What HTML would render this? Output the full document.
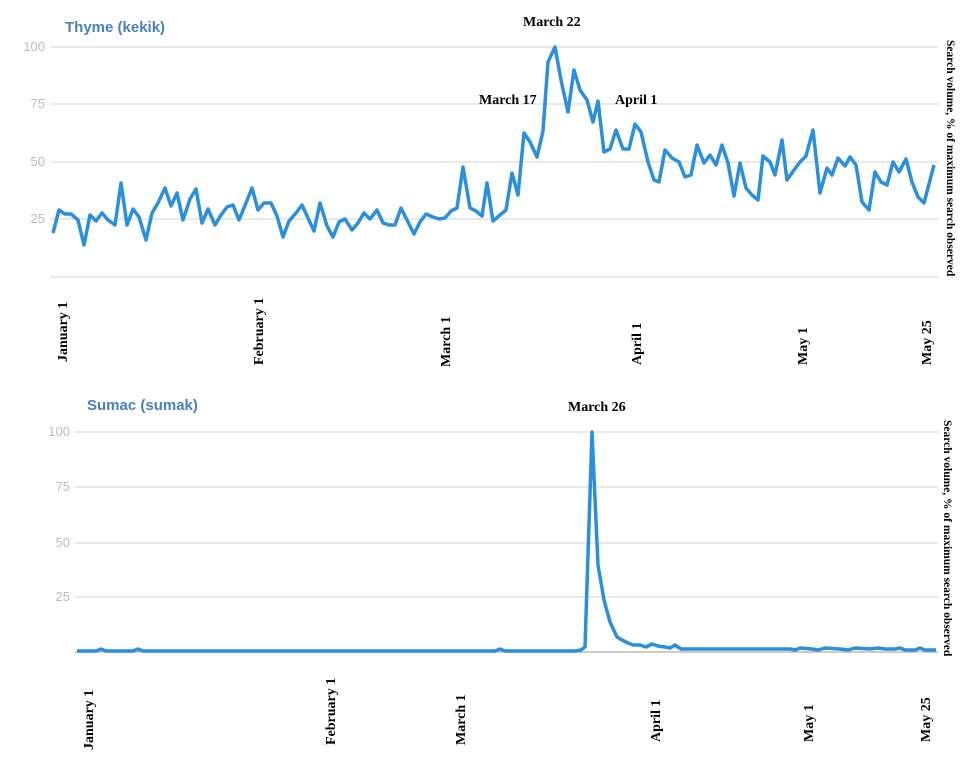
<!DOCTYPE html>
<html><head><meta charset="utf-8"><style>
html,body{margin:0;padding:0;background:#fff;}
svg{display:block;}
.g{stroke:#e2e2e2;stroke-width:1.5;}
.yl{font-family:"Liberation Sans",sans-serif;font-size:13px;fill:#bcbcbc;text-anchor:end;}
.t{font-family:"Liberation Sans",sans-serif;font-size:15px;font-weight:bold;fill:#4a80c2;}
.m{font-family:"Liberation Serif",serif;font-size:14px;font-weight:bold;fill:#000;}
.r{font-family:"Liberation Serif",serif;font-size:11.5px;font-weight:bold;fill:#000;}
.ln{fill:none;stroke:#2b8fdd;stroke-width:3.5;stroke-linejoin:round;}
</style></head><body>
<svg width="977" height="768" viewBox="0 0 977 768">
<!-- top chart -->
<text class="t" x="65" y="32">Thyme (kekik)</text>
<line class="g" x1="50" y1="47" x2="938" y2="47"/>
<line class="g" x1="50" y1="104" x2="938" y2="104"/>
<line class="g" x1="50" y1="162" x2="938" y2="162"/>
<line class="g" x1="50" y1="219" x2="938" y2="219"/>
<line class="g" x1="50" y1="277" x2="938" y2="277"/>
<text class="yl" x="45" y="51">100</text>
<text class="yl" x="45" y="108">75</text>
<text class="yl" x="45" y="166">50</text>
<text class="yl" x="45" y="223">25</text>
<polyline class="ln" points="53,233 59,210 65,214 71,214 78,220 84,245 90,215 96,221 102,213 108,220 115,225 121,183 127,225 133,209 139,217 146,240 152,213 158,203 165,188 171,206 177,193 183,220 190,199 196,189 202,223 208,209 215,225 221,215 227,207 233,205 239,220 246,203 252,188 258,210 264,203 271,203 277,216 283,237 289,221 296,213 302,205 308,218 314,231 320,203 327,226 333,237 339,222 345,219 352,230 358,223 364,213 370,219 377,210 383,223 389,225 395,225 401,208 408,222 414,234 420,222 426,214 433,217 439,219 445,218 451,211 457,208 463,167 470,208 476,211 482,216 487,183 493,221 500,215 506,210 512,173 518,195 524,133 530,142 537,157 543,131 548,62 555,47 561,80 568,112 574,70 580,90 587,100 593,122 598,101 604,152 610,149 616,130 623,149 629,149 635,124 641,132 648,162 654,180 659,182 665,150 672,158 679,162 685,177 691,175 697,145 704,163 710,155 716,165 722,145 728,163 734,196 740,163 746,188 752,195 758,200 763,156 770,162 775,175 782,140 787,180 794,170 800,162 806,156 813,130 820,193 827,168 832,175 838,158 845,166 850,157 856,165 862,202 869,210 875,172 881,182 887,185 893,162 899,172 906,159 912,182 918,197 924,203 934,165"/>
<text class="m" x="523" y="26">March 22</text>
<text class="m" x="479" y="104">March 17</text>
<text class="m" x="615" y="104">April 1</text>
<text class="r" transform="translate(947,40) rotate(90)">Search volume, % of maximum search observed</text>
<text class="m" transform="translate(67,362) rotate(-90)">January 1</text>
<text class="m" transform="translate(263,365) rotate(-90)">February 1</text>
<text class="m" transform="translate(450,367) rotate(-90)">March 1</text>
<text class="m" transform="translate(641,365) rotate(-90)">April 1</text>
<text class="m" transform="translate(807,365) rotate(-90)">May 1</text>
<text class="m" transform="translate(931,365) rotate(-90)">May 25</text>
<!-- bottom chart -->
<text class="t" x="87" y="410">Sumac (sumak)</text>
<line class="g" x1="75" y1="432" x2="938" y2="432"/>
<line class="g" x1="75" y1="487" x2="938" y2="487"/>
<line class="g" x1="75" y1="543" x2="938" y2="543"/>
<line class="g" x1="75" y1="597" x2="938" y2="597"/>
<line x1="75" y1="652" x2="938" y2="652" stroke="#bbb" stroke-width="1.5"/>
<text class="yl" x="70" y="436">100</text>
<text class="yl" x="70" y="491">75</text>
<text class="yl" x="70" y="547">50</text>
<text class="yl" x="70" y="601">25</text>
<polyline class="ln" points="77,651 96,651 101,649 106,651 133,651 138,649 143,651 495,651 500,649 505,651 575,651 581,650 585,647 592,432 598,565 604,600 610,622 617,637 622,640 628,643 633,645 640,645 646,647 652,644 658,646 665,647 670,648 675,645 681,649 690,649 790,649 795,650 800,648 812,649 818,650 825,648 840,649 848,650 855,648 870,649 878,648 885,649 895,649 900,648 905,650 915,650 920,648 925,650 936,650"/>
<text class="m" x="568" y="411">March 26</text>
<text class="r" transform="translate(944,420) rotate(90)">Search volume, % of maximum search observed</text>
<text class="m" transform="translate(93,750) rotate(-90)">January 1</text>
<text class="m" transform="translate(335,745) rotate(-90)">February 1</text>
<text class="m" transform="translate(465,745) rotate(-90)">March 1</text>
<text class="m" transform="translate(660,742) rotate(-90)">April 1</text>
<text class="m" transform="translate(813,742) rotate(-90)">May 1</text>
<text class="m" transform="translate(930,742) rotate(-90)">May 25</text>
</svg>
</body></html>
